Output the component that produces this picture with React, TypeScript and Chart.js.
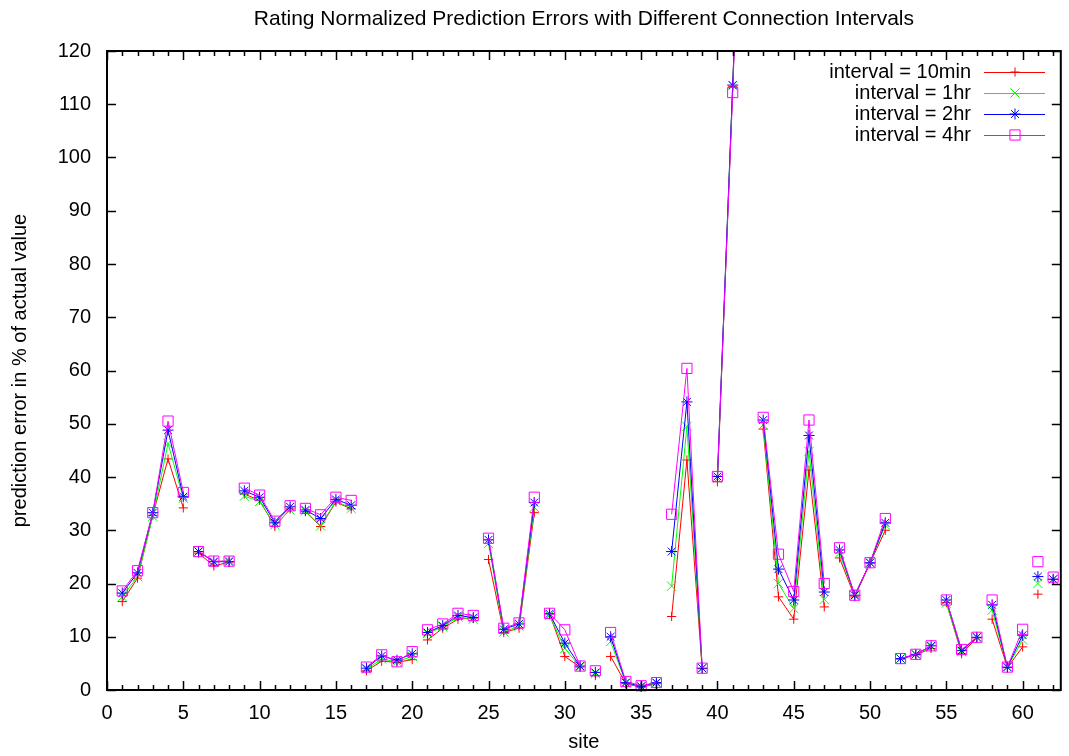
import React, { useEffect, useRef } from "react";
import { Chart, registerables } from "chart.js";

Chart.register(...registerables);

// ---- data ----
const sites = [
  1, 2, 3, 4, 5, 6, 7, 8, 9, 10, 11, 12, 13, 14, 15, 16, 17, 18, 19, 20,
  21, 22, 23, 24, 25, 26, 27, 28, 29, 30, 31, 32, 33, 34, 35, 36, 37, 38, 39, 40,
  41, 42, 43, 44, 45, 46, 47, 48, 49, 50, 51, 52, 53, 54, 55, 56, 57, 58, 59, 60,
  61, 62,
];
// connected line block each site belongs to (lines are broken between blocks)
const blockIds = [
  1, 1, 1, 1, 1, 2, 2, 2, 3, 3, 3, 3, 4, 4, 4, 4, 5, 5, 5, 5,
  6, 6, 6, 6, 7, 7, 7, 7, 8, 8, 8, 9, 10, 10, 10, 10, 11, 11, 11, 12,
  12, 12, 13, 13, 13, 13, 13, 14, 14, 14, 14, 15, 15, 15, 16, 16, 16, 17, 17, 17,
  18, 19,
];
const err10min = [
  16.6, 21.0, 32.8, 43.4, 34.2, 25.7, 23.3, 24.0, 36.8, 35.6, 30.7, 34.0, 33.5, 30.7, 35.3, 34.0, 3.6, 5.4, 5.2, 5.7,
  9.4, 11.6, 13.3, 13.5, 24.5, 10.8, 11.6, 33.3, 14.3, 6.3, 4.3, 2.7, 6.3, 1.2, 0.5, 1.2, 13.8, 43.2, 4.0, 39.1,
  113.3, 188, 49.0, 17.5, 13.3, 41.3, 15.6, 24.8, 17.5, 23.8, 30.0, 5.8, 6.6, 7.8, 16.4, 6.8, 9.8, 13.3, 4.2, 8.1,
  18.0, 20.8,
];
const err1hr = [
  17.5, 21.3, 32.6, 46.3, 36.0, 26.0, 24.0, 24.3, 36.4, 35.4, 31.0, 33.8, 33.6, 30.8, 35.5, 34.1, 3.9, 5.8, 5.3, 6.3,
  10.6, 11.9, 13.7, 13.3, 27.5, 10.9, 12.0, 34.3, 14.0, 7.8, 4.4, 3.1, 9.1, 1.3, 0.6, 1.3, 19.5, 49.5, 4.1, 39.7,
  113.5, 189, 49.8, 20.0, 15.3, 44.8, 17.0, 25.7, 17.7, 23.9, 31.0, 5.9, 6.7, 8.1, 16.3, 7.2, 9.9, 15.0, 4.3, 9.4,
  20.0, 20.8,
];
const err2hr = [
  18.2, 22.0, 33.3, 48.8, 36.3, 26.0, 24.1, 24.1, 37.4, 36.2, 31.4, 34.4, 33.8, 32.2, 35.8, 34.7, 4.1, 6.4, 5.6, 6.8,
  10.8, 12.1, 14.0, 13.6, 28.2, 11.4, 12.4, 35.2, 14.3, 8.8, 4.5, 3.3, 10.0, 1.4, 0.7, 1.4, 26.0, 54.1, 4.1, 40.1,
  113.6, 190, 50.7, 22.7, 16.9, 47.8, 18.4, 26.3, 17.8, 23.9, 31.4, 5.9, 6.7, 8.3, 16.9, 7.4, 9.9, 16.0, 4.3, 10.3,
  21.3, 20.8,
];
const err4hr = [
  18.6, 22.4, 33.3, 50.5, 37.1, 26.0, 24.2, 24.2, 37.9, 36.6, 31.7, 34.6, 34.1, 32.9, 36.2, 35.6, 4.3, 6.6, 5.3, 7.2,
  11.3, 12.4, 14.4, 14.0, 28.5, 11.6, 12.6, 36.2, 14.4, 11.3, 4.5, 3.6, 10.8, 1.6, 0.8, 1.4, 33.0, 60.4, 4.1, 40.1,
  112.2, 192, 51.2, 25.5, 18.5, 50.7, 20.0, 26.7, 17.8, 23.9, 32.2, 5.9, 6.7, 8.3, 16.9, 7.6, 9.9, 16.9, 4.3, 11.4,
  24.1, 21.2,
];
const seriesLabels = ["interval = 10min", "interval = 1hr", "interval = 2hr", "interval = 4hr"];
const xTickValues = [0, 5, 10, 15, 20, 25, 30, 35, 40, 45, 50, 55, 60];
const yTickValues = [0, 10, 20, 30, 40, 50, 60, 70, 80, 90, 100, 110, 120];

const chartTitle = "Rating Normalized Prediction Errors with Different Connection Intervals";
const xTitle = "site";
const yTitle = "prediction error in % of actual value";

// ---- styles ----
const FONT = '"Liberation Sans", Arial, Helvetica, sans-serif';
const FS = 20;
const colors = ["#ff0000", "#00ff00", "#0000ff", "#ff00ff"];
const pointStyles = ["cross", "crossRot", "star", "rect"];
const pointRadii = [4.6, 6.5, 5.5, 7.2];

function drawMarker(ctx: CanvasRenderingContext2D, style: string, x: number, y: number, r: number) {
  ctx.beginPath();
  if (style === "cross" || style === "star") {
    ctx.moveTo(x - r, y);
    ctx.lineTo(x + r, y);
    ctx.moveTo(x, y - r);
    ctx.lineTo(x, y + r);
  }
  if (style === "crossRot" || style === "star") {
    const o = Math.SQRT1_2 * r;
    ctx.moveTo(x - o, y - o);
    ctx.lineTo(x + o, y + o);
    ctx.moveTo(x - o, y + o);
    ctx.lineTo(x + o, y - o);
  }
  if (style === "rect") {
    const s = Math.SQRT1_2 * r;
    ctx.rect(x - s, y - s, 2 * s, 2 * s);
  }
  ctx.stroke();
}

const framePlugin = {
  id: "gnuplotFrame",
  afterDraw(chart: any) {
    const ctx: CanvasRenderingContext2D = chart.ctx;
    const { left, right, top, bottom } = chart.chartArea;
    const xs = chart.scales.x;
    const ys = chart.scales.y;
    ctx.save();
    ctx.strokeStyle = "#000";
    ctx.lineWidth = 1.5;
    // ticks (inward, mirrored)
    ctx.beginPath();
    for (let v = Math.ceil(xs.min); v <= xs.max; v++) {
      const px = Math.round(xs.getPixelForValue(v)) + 0.5;
      const len = v % 5 === 0 ? 9 : 5;
      ctx.moveTo(px, bottom);
      ctx.lineTo(px, bottom - len);
      ctx.moveTo(px, top);
      ctx.lineTo(px, top + len);
    }
    for (const v of yTickValues) {
      const py = Math.round(ys.getPixelForValue(v)) + 0.5;
      ctx.moveTo(left, py);
      ctx.lineTo(left + 9, py);
      ctx.moveTo(right, py);
      ctx.lineTo(right - 9, py);
    }
    ctx.stroke();
    ctx.lineWidth = 2;
    ctx.strokeRect(left, top, right - left, bottom - top);

    // texts
    ctx.fillStyle = "#000";
    ctx.textAlign = "center";
    ctx.textBaseline = "middle";
    const cx = (left + right) / 2;
    ctx.font = `21px ${FONT}`;
    ctx.fillText(chartTitle, cx, 19);
    ctx.font = `${FS}px ${FONT}`;
    ctx.fillText(xTitle, cx, 742);
    ctx.save();
    ctx.translate(20, (top + bottom) / 2);
    ctx.rotate(-Math.PI / 2);
    ctx.fillText(yTitle, 0, 0);
    ctx.restore();

    // key
    chart.data.datasets.forEach((ds: any, i: number) => {
      const y = 72 + 21 * i;
      ctx.fillStyle = "#000";
      ctx.textAlign = "right";
      ctx.fillText(ds.label, 971, y);
      ctx.strokeStyle = ds.borderColor;
      ctx.lineWidth = 1;
      ctx.beginPath();
      ctx.moveTo(984, y + 0.5);
      ctx.lineTo(1045, y + 0.5);
      ctx.stroke();
      drawMarker(ctx, ds.pointStyle, 1015, y, ds.pointRadius);
    });
    ctx.restore();
  },
};

export default function App() {
  const ref = useRef<HTMLCanvasElement | null>(null);
  useEffect(() => {
    if (!ref.current) return;
    const series = [err10min, err1hr, err2hr, err4hr];
    const chart = new Chart(ref.current, {
      type: "line",
      data: {
        datasets: series.map((vals, i) => ({
          label: seriesLabels[i],
          data: sites.map((s, j) => ({ x: s, y: vals[j] })),
          borderColor: colors[i],
          backgroundColor: "transparent",
          borderWidth: 1,
          pointStyle: pointStyles[i],
          pointRadius: pointRadii[i],
          pointBorderColor: colors[i],
          pointBackgroundColor: "transparent",
          pointBorderWidth: 1,
          tension: 0,
          order: 4 - i,
          clip: { left: 10, top: 0, right: 10, bottom: 10 },
          segment: {
            borderColor: (c: any) =>
              blockIds[c.p0DataIndex] === blockIds[c.p1DataIndex] ? colors[i] : "transparent",
          },
        })),
      },
      options: {
        animation: false,
        responsive: false,
        devicePixelRatio: 1,
        layout: { padding: { left: 0, top: 51, right: 6, bottom: 0 } },
        plugins: { legend: { display: false }, tooltip: { enabled: false }, title: { display: false } },
        scales: {
          x: {
            type: "linear",
            min: 0,
            max: 62.5,
            grid: { display: false, drawTicks: false, tickLength: 0 },
            border: { display: false },
            ticks: { color: "#000", font: { family: FONT, size: FS }, padding: 11, maxRotation: 0 },
            afterBuildTicks: (s: any) => {
              s.ticks = xTickValues.map((v) => ({ value: v }));
            },
            afterFit: (s: any) => {
              s.height = 66;
            },
          },
          y: {
            type: "linear",
            min: 0,
            max: 120,
            grid: { display: false, drawTicks: false, tickLength: 0 },
            border: { display: false },
            ticks: { color: "#000", font: { family: FONT, size: FS }, padding: 16 },
            afterBuildTicks: (s: any) => {
              s.ticks = yTickValues.map((v) => ({ value: v }));
            },
            afterFit: (s: any) => {
              s.width = 107;
            },
          },
        },
      },
      plugins: [framePlugin],
    } as any);
    return () => chart.destroy();
  }, []);
  return (
    <div style={{ position: "fixed", left: 0, top: 0, width: 1069, height: 756, background: "#fff" }}>
      <canvas ref={ref} width={1069} height={756} style={{ display: "block" }} />
    </div>
  );
}
